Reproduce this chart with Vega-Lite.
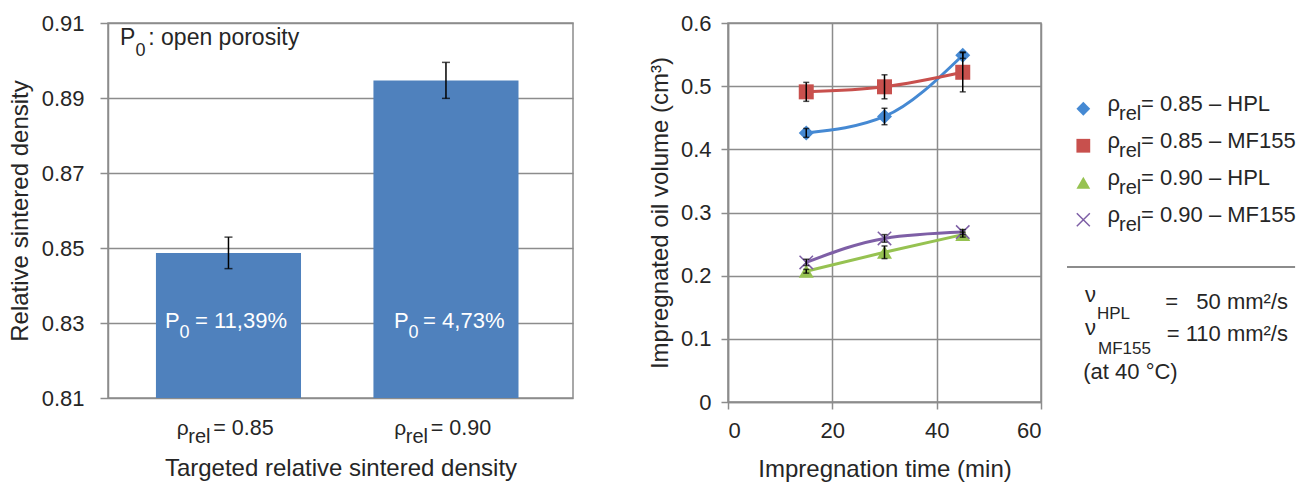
{
  "$schema": "https://vega.github.io/schema/vega-lite/v6.json",
  "background": "white",
  "padding": {"left": 7, "top": 11, "right": 0, "bottom": 0},
  "config": {
    "font": "Liberation Sans",
    "view": {"stroke": "#8c8c8c", "strokeWidth": 1.5},
    "axis": {
      "labelFontSize": 22, "titleFontSize": 24, "titleFontWeight": "normal",
      "labelColor": "#262626", "titleColor": "#262626",
      "gridColor": "#8c8c8c", "gridWidth": 1.5, "gridOpacity": 1,
      "domainColor": "#8c8c8c", "domainWidth": 1.5,
      "tickColor": "#8c8c8c", "tickWidth": 1.5
    }
  },
  "bounds": "flush",
  "spacing": 155,
  "resolve": {"scale": {"x": "independent", "y": "independent"}},
  "hconcat": [
    {
      "width": 465,
      "height": 375,
      "data": {"values": [
        {"target": "0.85", "density": 0.8487, "err": 0.0042, "xlab": "= 0.85", "p0": "= 11,39%"},
        {"target": "0.90", "density": 0.8947, "err": 0.0048, "xlab": "= 0.90", "p0": "= 4,73%"}
      ]},
      "encoding": {
        "x": {"field": "target", "type": "nominal", "sort": null,
          "scale": {"paddingInner": 0.333, "paddingOuter": 0.2355, "align": 0.468},
          "axis": {"labels": false, "ticks": false, "domain": false, "grid": false,
            "title": "Targeted relative sintered density", "titlePadding": 58}}
      },
      "layer": [
        {
          "mark": {"type": "bar", "color": "#4F81BD"},
          "encoding": {
            "y": {"field": "density", "type": "quantitative",
              "scale": {"domain": [0.81, 0.91], "zero": false, "nice": false},
              "axis": {"values": [0.81, 0.82, 0.83, 0.84, 0.85, 0.86, 0.87, 0.88, 0.89, 0.9, 0.91],
                "labelExpr": "round(datum.value*100) % 2 == 1 ? format(datum.value, '.2f') : ''",
                "tickSize": 8, "labelPadding": 16, "grid": true,
                "title": "Relative sintered density", "titlePadding": 9}},
            "y2": {"datum": 0.81}
          }
        },
        {
          "mark": {"type": "errorbar", "ticks": {"size": 8}, "thickness": 1.5, "color": "black"},
          "encoding": {
            "y": {"field": "density", "type": "quantitative", "title": "Relative sintered density"},
            "yError": {"field": "err"}
          }
        },
        {
          "mark": {"type": "text", "text": "ρ", "align": "left", "baseline": "alphabetic", "dx": -51.8, "dy": 36.7, "fontSize": 21, "color": "#262626"},
          "encoding": {"y": {"datum": 0.81}}
        },
        {
          "mark": {"type": "text", "text": "rel", "align": "left", "baseline": "alphabetic", "dx": -40.2, "dy": 45, "fontSize": 20, "color": "#262626"},
          "encoding": {"y": {"datum": 0.81}}
        },
        {
          "mark": {"type": "text", "align": "left", "baseline": "alphabetic", "dx": -15.2, "dy": 36.7, "fontSize": 21.5, "color": "#262626"},
          "encoding": {"y": {"datum": 0.81}, "text": {"field": "xlab"}}
        },
        {
          "mark": {"type": "text", "align": "right", "baseline": "alphabetic", "dx": 58.5, "dy": 4.7, "fontSize": 22, "color": "white"},
          "encoding": {"y": {"datum": 0.83}, "text": {"field": "p0"}}
        },
        {
          "transform": [{"filter": "datum.target == '0.85'"}],
          "mark": {"type": "text", "text": "P", "align": "left", "baseline": "alphabetic", "dx": -63.5, "dy": 4.7, "fontSize": 22, "color": "white"},
          "encoding": {"y": {"datum": 0.83}}
        },
        {
          "transform": [{"filter": "datum.target == '0.85'"}],
          "mark": {"type": "text", "text": "0", "align": "left", "baseline": "alphabetic", "dx": -49, "dy": 14.7, "fontSize": 18, "color": "white"},
          "encoding": {"y": {"datum": 0.83}}
        },
        {
          "transform": [{"filter": "datum.target == '0.90'"}],
          "mark": {"type": "text", "text": "P", "align": "left", "baseline": "alphabetic", "dx": -52, "dy": 4.7, "fontSize": 22, "color": "white"},
          "encoding": {"y": {"datum": 0.83}}
        },
        {
          "transform": [{"filter": "datum.target == '0.90'"}],
          "mark": {"type": "text", "text": "0", "align": "left", "baseline": "alphabetic", "dx": -37.5, "dy": 14.7, "fontSize": 18, "color": "white"},
          "encoding": {"y": {"datum": 0.83}}
        },
        {
          "transform": [{"filter": "datum.target == '0.85'"}],
          "mark": {"type": "text", "text": "P", "align": "left", "baseline": "alphabetic", "dx": -108.5, "dy": 21.7, "fontSize": 23, "color": "#262626"},
          "encoding": {"y": {"datum": 0.91}}
        },
        {
          "transform": [{"filter": "datum.target == '0.85'"}],
          "mark": {"type": "text", "text": "0", "align": "left", "baseline": "alphabetic", "dx": -93, "dy": 33.3, "fontSize": 18, "color": "#262626"},
          "encoding": {"y": {"datum": 0.91}}
        },
        {
          "transform": [{"filter": "datum.target == '0.85'"}],
          "mark": {"type": "text", "text": ": open porosity", "align": "left", "baseline": "alphabetic", "dx": -80.2, "dy": 21.7, "fontSize": 23, "color": "#262626"},
          "encoding": {"y": {"datum": 0.91}}
        }
      ]
    },
    {
      "bounds": "flush",
      "spacing": 14,
      "resolve": {"scale": {"x": "independent", "y": "independent"}},
      "hconcat": [
        {
          "width": 313,
          "height": 379,
          "data": {"values": [
            {"series": "0.85 – HPL", "t": 15, "v": 0.426, "err": 0.007},
            {"series": "0.85 – HPL", "t": 30, "v": 0.452, "err": 0.013},
            {"series": "0.85 – HPL", "t": 45, "v": 0.549, "err": 0.005},
            {"series": "0.85 – MF155", "t": 15, "v": 0.491, "err": 0.015},
            {"series": "0.85 – MF155", "t": 30, "v": 0.499, "err": 0.019},
            {"series": "0.85 – MF155", "t": 45, "v": 0.522, "err": 0.031},
            {"series": "0.90 – HPL", "t": 15, "v": 0.207, "err": 0.003},
            {"series": "0.90 – HPL", "t": 30, "v": 0.237, "err": 0.010},
            {"series": "0.90 – HPL", "t": 45, "v": 0.265, "err": 0.004},
            {"series": "0.90 – MF155", "t": 15, "v": 0.221, "err": 0.005},
            {"series": "0.90 – MF155", "t": 30, "v": 0.259, "err": 0.006},
            {"series": "0.90 – MF155", "t": 45, "v": 0.269, "err": 0.004}
          ]},
          "encoding": {
            "x": {"field": "t", "type": "quantitative",
              "scale": {"domain": [0, 60], "nice": false, "zero": false},
              "axis": {"values": [0, 20, 40, 60], "tickSize": 7, "labelPadding": 11, "grid": true,
                "title": "Impregnation time (min)", "titlePadding": 16}},
            "y": {"field": "v", "type": "quantitative",
              "scale": {"domain": [0, 0.6], "nice": false},
              "axis": {"values": [0, 0.1, 0.2, 0.3, 0.4, 0.5, 0.6], "format": "~g", "tickSize": 7, "labelPadding": 10, "grid": true,
                "title": "Impregnated oil volume (cm³)", "titlePadding": 8}}
          },
          "layer": [
            {
              "mark": {"type": "line", "interpolate": "monotone", "strokeWidth": 3},
              "encoding": {
                "color": {"field": "series", "type": "nominal",
                  "scale": {"domain": ["0.85 – HPL", "0.85 – MF155", "0.90 – HPL", "0.90 – MF155"], "range": ["#4589D3", "#C8504D", "#96C251", "#7E5FA6"]},
                  "legend": null}
              }
            },
            {
              "transform": [{"filter": "datum.series != '0.90 – MF155'"}],
              "mark": {"type": "point", "filled": true, "opacity": 1, "size": 225},
              "encoding": {
                "color": {"field": "series", "type": "nominal",
                  "scale": {"domain": ["0.85 – HPL", "0.85 – MF155", "0.90 – HPL", "0.90 – MF155"], "range": ["#4589D3", "#C8504D", "#96C251", "#7E5FA6"]},
                  "legend": null},
                "shape": {"field": "series", "type": "nominal",
                  "scale": {"domain": ["0.85 – HPL", "0.85 – MF155", "0.90 – HPL", "0.90 – MF155"], "range": ["diamond", "square", "triangle-up", "M-1,-1L1,1M-1,1L1,-1"]},
                  "legend": null}
              }
            },
            {
              "transform": [{"filter": "datum.series == '0.90 – MF155'"}],
              "mark": {"type": "point", "filled": false, "opacity": 1, "size": 180, "strokeWidth": 1.5},
              "encoding": {
                "color": {"field": "series", "type": "nominal", "legend": null},
                "shape": {"field": "series", "type": "nominal", "legend": null}
              }
            },
            {
              "mark": {"type": "errorbar", "ticks": {"size": 6}, "thickness": 1.5, "color": "black"},
              "encoding": {"yError": {"field": "err"}}
            }
          ]
        },
        {
          "width": 245,
          "height": 379,
          "view": {"stroke": null},
          "data": {"values": [
            {"row": 1, "series": "0.85 – HPL", "label": "= 0.85 – HPL"},
            {"row": 2, "series": "0.85 – MF155", "label": "= 0.85 – MF155"},
            {"row": 3, "series": "0.90 – HPL", "label": "= 0.90 – HPL"},
            {"row": 4, "series": "0.90 – MF155", "label": "= 0.90 – MF155"}
          ]},
          "layer": [
            {
              "transform": [{"filter": "datum.series != '0.90 – MF155'"}],
              "mark": {"type": "point", "filled": true, "opacity": 1, "size": 190},
              "encoding": {
                "x": {"datum": 0.1156, "type": "quantitative", "scale": {"domain": [0, 1], "nice": false, "zero": false}, "axis": null},
                "y": {"field": "row", "type": "quantitative", "scale": {"domain": [-1.3176, 8.9257], "reverse": true, "nice": false, "zero": false}, "axis": null},
                "color": {"field": "series", "type": "nominal",
                  "scale": {"domain": ["0.85 – HPL", "0.85 – MF155", "0.90 – HPL", "0.90 – MF155"], "range": ["#4589D3", "#C8504D", "#96C251", "#7E5FA6"]},
                  "legend": null},
                "shape": {"field": "series", "type": "nominal",
                  "scale": {"domain": ["0.85 – HPL", "0.85 – MF155", "0.90 – HPL", "0.90 – MF155"], "range": ["diamond", "square", "triangle-up", "M-1,-1L1,1M-1,1L1,-1"]},
                  "legend": null}
              }
            },
            {
              "transform": [{"filter": "datum.series == '0.90 – MF155'"}],
              "mark": {"type": "point", "filled": false, "opacity": 1, "size": 170, "strokeWidth": 1.5},
              "encoding": {
                "x": {"datum": 0.1156, "type": "quantitative"},
                "y": {"field": "row", "type": "quantitative"},
                "color": {"field": "series", "type": "nominal", "legend": null},
                "shape": {"field": "series", "type": "nominal", "legend": null}
              }
            },
            {
              "mark": {"type": "text", "text": "ρ", "align": "left", "baseline": "alphabetic", "dy": 2.5, "fontSize": 22, "color": "#262626"},
              "encoding": {"x": {"datum": 0.2143, "type": "quantitative"}, "y": {"field": "row", "type": "quantitative"}}
            },
            {
              "mark": {"type": "text", "text": "rel", "align": "left", "baseline": "alphabetic", "dx": 11.5, "dy": 11.5, "fontSize": 20, "color": "#262626"},
              "encoding": {"x": {"datum": 0.2143, "type": "quantitative"}, "y": {"field": "row", "type": "quantitative"}}
            },
            {
              "mark": {"type": "text", "align": "left", "baseline": "alphabetic", "dx": 33.5, "dy": 2.5, "fontSize": 22, "color": "#262626"},
              "encoding": {"x": {"datum": 0.2143, "type": "quantitative"}, "y": {"field": "row", "type": "quantitative"}, "text": {"field": "label"}}
            },
            {
              "data": {"values": [{"note": "divider"}]},
              "mark": {"type": "rule", "color": "#1a1a1a", "strokeWidth": 1.2},
              "encoding": {"x": {"datum": 0.049, "type": "quantitative"}, "x2": {"datum": 0.98}, "y": {"datum": 5.277, "type": "quantitative"}}
            },
            {
              "data": {"values": [{"note": "visc"}]},
              "mark": {"type": "text", "text": "ν", "align": "left", "baseline": "alphabetic", "dy": 3, "fontSize": 22, "color": "#262626"},
              "encoding": {"x": {"datum": 0.1224, "type": "quantitative"}, "y": {"datum": 6.142, "type": "quantitative"}}
            },
            {
              "data": {"values": [{"note": "visc"}]},
              "mark": {"type": "text", "text": "HPL", "align": "left", "baseline": "alphabetic", "dx": 12, "dy": 20, "fontSize": 17, "color": "#262626"},
              "encoding": {"x": {"datum": 0.1224, "type": "quantitative"}, "y": {"datum": 6.142, "type": "quantitative"}}
            },
            {
              "data": {"values": [{"note": "visc"}]},
              "mark": {"type": "text", "text": "=\u00a0\u00a0\u00a050 mm²/s", "align": "right", "baseline": "alphabetic", "dy": 10, "fontSize": 22, "color": "#262626"},
              "encoding": {"x": {"datum": 0.951, "type": "quantitative"}, "y": {"datum": 6.142, "type": "quantitative"}}
            },
            {
              "data": {"values": [{"note": "visc"}]},
              "mark": {"type": "text", "text": "ν", "align": "left", "baseline": "alphabetic", "dy": 1, "fontSize": 22, "color": "#262626"},
              "encoding": {"x": {"datum": 0.1224, "type": "quantitative"}, "y": {"datum": 7.088, "type": "quantitative"}}
            },
            {
              "data": {"values": [{"note": "visc"}]},
              "mark": {"type": "text", "text": "MF155", "align": "left", "baseline": "alphabetic", "dx": 13, "dy": 20, "fontSize": 17, "color": "#262626"},
              "encoding": {"x": {"datum": 0.1224, "type": "quantitative"}, "y": {"datum": 7.088, "type": "quantitative"}}
            },
            {
              "data": {"values": [{"note": "visc"}]},
              "mark": {"type": "text", "text": "= 110 mm²/s", "align": "right", "baseline": "alphabetic", "dy": 7, "fontSize": 22, "color": "#262626"},
              "encoding": {"x": {"datum": 0.951, "type": "quantitative"}, "y": {"datum": 7.088, "type": "quantitative"}}
            },
            {
              "data": {"values": [{"note": "visc"}]},
              "mark": {"type": "text", "text": "(at 40 °C)", "align": "left", "baseline": "alphabetic", "dy": 2, "fontSize": 22, "color": "#262626"},
              "encoding": {"x": {"datum": 0.1155, "type": "quantitative"}, "y": {"datum": 8.25, "type": "quantitative"}}
            }
          ]
        }
      ]
    }
  ]
}
